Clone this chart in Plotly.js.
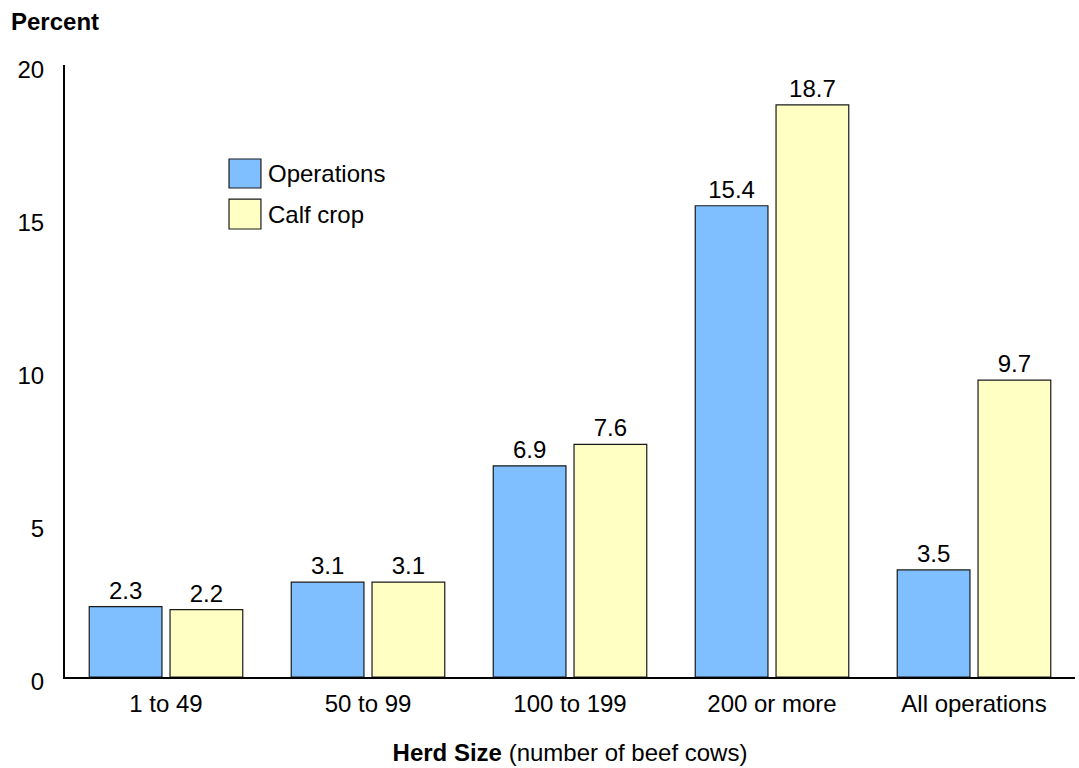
<!DOCTYPE html>
<html>
<head>
<meta charset="utf-8">
<script src="https://cdn.plot.ly/plotly-3.0.1.min.js"></script>
<style>
  html, body { margin: 0; padding: 0; background: #ffffff; }
  #chart { width: 1079px; height: 768px; }
</style>
</head>
<body>
<div id="chart"></div>
<script>
// Herd size groups and percentages for each series
const herdSizes = ["1 to 49", "50 to 99", "100 to 199", "200 or more", "All operations"];
const operations = [2.3, 3.1, 6.9, 15.4, 3.5];
const calfCrop = [2.2, 3.1, 7.6, 18.7, 9.7];
const seriesNames = ["Operations", "Calf crop"];
const yTicks = [0, 5, 10, 15, 20];

const blue = "#80bfff";
const yellow = "#ffffc4";
const outline = "#1a1a1a";
const font = "Liberation Sans, Arial, sans-serif";

function barTrace(name, values, color) {
  return {
    type: "bar",
    name: name,
    x: herdSizes,
    y: values,
    text: values.map(v => v.toFixed(1)),
    textposition: "outside",
    textfont: { family: font, size: 24, color: "#000" },
    constraintext: "none",
    cliponaxis: false,
    marker: { color: color, line: { color: outline, width: 1.2 } },
    showlegend: false,
    hoverinfo: "x+y"
  };
}

const data = [
  barTrace(seriesNames[0], operations, blue),
  barTrace(seriesNames[1], calfCrop, yellow)
];

// Legend drawn as boxes with labels, placed inside the plot area
const legendBoxes = [
  { color: blue, y0: 0.799, y1: 0.8464, ty: 0.8227 },
  { color: yellow, y0: 0.732, y1: 0.781, ty: 0.7565 }
];
const shapes = legendBoxes.map(b => ({
  type: "rect", xref: "paper", yref: "paper",
  x0: 0.1624, x1: 0.194, y0: b.y0, y1: b.y1,
  fillcolor: b.color, line: { color: outline, width: 1.2 }
}));
const legendLabels = seriesNames.map((n, i) => ({
  xref: "paper", yref: "paper",
  x: 0.199, y: legendBoxes[i].ty,
  xanchor: "left", yanchor: "middle",
  text: n, showarrow: false,
  font: { family: font, size: 24, color: "#000" }
}));

const layout = {
  width: 1079,
  height: 768,
  margin: { l: 65, r: 4, t: 65, b: 91 },
  paper_bgcolor: "#ffffff",
  plot_bgcolor: "#ffffff",
  font: { family: font, size: 24, color: "#000" },
  barmode: "group",
  bargap: 0.2,
  bargroupgap: 0.1,
  xaxis: {
    type: "category",
    showline: true, linecolor: "#000", linewidth: 2,
    showgrid: false, zeroline: false,
    ticks: "outside", ticklen: 4, tickcolor: "rgba(0,0,0,0)",
    tickfont: { family: font, size: 24, color: "#000" },
    title: {
      text: "<b>Herd Size</b> (number of beef cows)",
      font: { family: font, size: 24, color: "#000" },
      standoff: 28
    }
  },
  yaxis: {
    range: [0, 20],
    tickvals: yTicks,
    showline: true, linecolor: "#000", linewidth: 2,
    showgrid: false, zeroline: false,
    ticks: "outside", ticklen: 14, tickcolor: "rgba(0,0,0,0)",
    ticklabelshift: 5,
    tickfont: { family: font, size: 24, color: "#000" }
  },
  shapes: shapes,
  annotations: [
    {
      xref: "paper", yref: "paper",
      x: -0.055, y: 1.0,
      xanchor: "left", yanchor: "bottom", yshift: 28,
      text: "<b>Percent</b>", showarrow: false,
      font: { family: font, size: 24, color: "#000" }
    }
  ].concat(legendLabels)
};

Plotly.newPlot("chart", data, layout, { displayModeBar: false, staticPlot: true });
</script>
</body>
</html>
